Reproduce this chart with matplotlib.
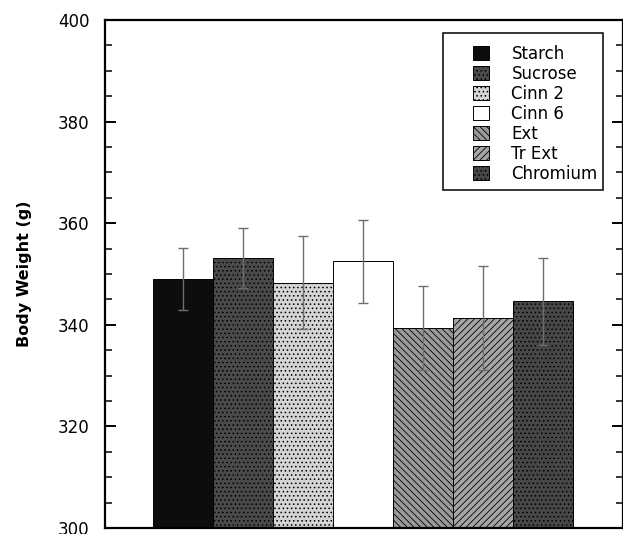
import numpy as np
import matplotlib.pyplot as plt
from matplotlib.ticker import MultipleLocator
from matplotlib.patches import Rectangle

plt.rcParams['font.family'] = ['DejaVu Sans']
plt.rcParams['hatch.color'] = '#2a2a2a'
plt.rcParams['hatch.linewidth'] = 0.6

groups = ['Starch', 'Sucrose', 'Cinn 2', 'Cinn 6', 'Ext', 'Tr Ext', 'Chromium']
weights = [349.1, 353.1, 348.3, 352.5, 339.4, 341.4, 344.6]
sem = [6.1, 5.9, 9.2, 8.2, 8.3, 10.2, 8.5]

faces = ['#0d0d0d', '#4a4a4a', '#d4d4d4', 'white', '#9a9a9a', '#a5a5a5', '#474747']
hatches = ['', '....', '....', '', '\\\\\\\\\\', '/////', '....']

fig = plt.figure(figsize=(6.23, 5.34), dpi=100)
ax = fig.add_axes([105 / 623, 6 / 534, 518 / 623, 508 / 534])

x = np.arange(1, len(groups) + 1)
for i in range(len(groups)):
    ax.bar(x[i], weights[i], width=1.0, color=faces[i], hatch=hatches[i],
           edgecolor='black', linewidth=0.7, label=groups[i], zorder=2)
ax.errorbar(x, weights, yerr=sem, fmt='none', ecolor='#6e6e6e', elinewidth=1.0,
            capsize=3.5, capthick=1.0, zorder=3)

ax.set_ylim(300, 400)
ax.set_xlim(-0.3, 8.33)
ax.set_xticks([])
ax.yaxis.set_major_locator(MultipleLocator(20))
ax.yaxis.set_minor_locator(MultipleLocator(5))
ax.tick_params(axis='y', which='both', direction='in', right=True, labelsize=12, pad=11)
ax.tick_params(axis='y', which='major', length=8, width=1.4)
ax.tick_params(axis='y', which='minor', length=5, width=1.1)
for s in ax.spines.values():
    s.set_linewidth(1.6)

ax.set_ylabel('Body Weight (g)', fontsize=11.5, fontweight='bold', labelpad=19)

# legend box drawn separately (wide left margin like the original)
ax.add_patch(Rectangle((0.6525, 0.6654), 0.309, 0.309, transform=ax.transAxes,
                       facecolor='white', edgecolor='black', linewidth=1.1,
                       clip_on=False, zorder=4))
leg = ax.legend(loc='upper left', bbox_to_anchor=(0.7104, 0.951), fontsize=12,
                frameon=False, handlelength=0.96, handleheight=0.9,
                handletextpad=1.35, labelspacing=0.12, borderpad=0,
                borderaxespad=0)
leg.set_zorder(5)

plt.savefig('out.png', dpi=100)
